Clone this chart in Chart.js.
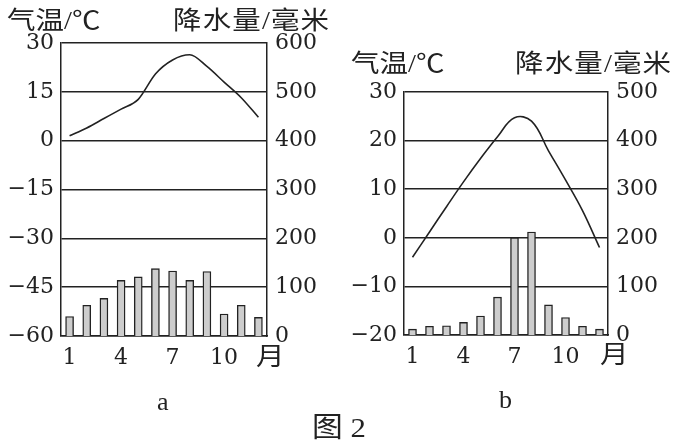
<!DOCTYPE html>
<html>
<head>
<meta charset="utf-8">
<script src="https://cdn.jsdelivr.net/npm/chart.js@4"></script>
<style>
  body { margin: 0; background: #fff; }
  #page { position: relative; width: 686px; height: 445px; overflow: hidden; }
  .box { position: absolute; top: 0; width: 343px; height: 445px; }
  .txt { position: absolute; color: #222; font-family: "Liberation Serif", "Noto Sans CJK SC", serif; white-space: nowrap; line-height: 1; transform-origin: 0 0; }
  .cjk { font-size: 25px; transform: scaleX(1.14); }
  .wide { letter-spacing: 1px; }
</style>
</head>
<body>
<div id="page">
  <div class="box" style="left:0"><canvas id="chartA"></canvas></div>
  <div class="box" style="left:343px"><canvas id="chartB"></canvas></div>

  <div class="txt cjk" style="left:7px; top:8px;">气温/℃</div>
  <div class="txt cjk wide" style="left:173px; top:8px;">降水量/毫米</div>
  <div class="txt cjk" style="left:351px; top:51px;">气温/℃</div>
  <div class="txt cjk wide" style="left:515px; top:51px;">降水量/毫米</div>

  <div class="txt cjk" style="left:256px; top:344px;">月</div>
  <div class="txt cjk" style="left:600px; top:342px;">月</div>

  <div class="txt" style="left:157px; top:389px; font-size:26px;">a</div>
  <div class="txt" style="left:499px; top:387px; font-size:26px;">b</div>
  <div class="txt" style="left:312px; top:414px; font-size:28px; transform: scaleX(1.1);">图 2</div>
</div>

<script>
// months on the x axis
var months = [1, 2, 3, 4, 5, 6, 7, 8, 9, 10, 11, 12];
var shownMonths = [1, 4, 7, 10];

// chart a
var tempA = [1.5, 3.9, 6.8, 9.7, 12.7, 20.5, 24.8, 26.4, 22.8, 18, 13.2, 7.2];
var rainA = [40, 63, 77, 114, 121, 138, 133, 114, 132, 45, 63, 38];
var tempTicksA = [-60, -45, -30, -15, 0, 15, 30];
var rainTicksA = [0, 100, 200, 300, 400, 500, 600];

// chart b
var tempB = [-4, 1.2, 6.4, 11.5, 16.3, 20.8, 24.7, 24, 17.9, 11.9, 5.6, -2];
var rainB = [12, 18, 19, 26, 39, 78, 200, 212, 62, 36, 18, 12];
var tempTicksB = [-20, -10, 0, 10, 20, 30];
var rainTicksB = [0, 100, 200, 300, 400, 500];

var ink = "#222";
var tickFont = { family: "DejaVu Serif", size: 22 };

function fixWidth(w) {
    return function (scale) { scale.width = w; };
}

function makeChart(id, temps, rains, tTicks, rTicks, box, curve) {

    new Chart(document.getElementById(id), {

        data: {
            labels: months,
            datasets: [{
                    type: "line",
                    data: temps,
                    yAxisID: "y",
                    borderColor: ink,
                    borderWidth: 1.6,
                    pointRadius: 0,
                    tension: curve.tension,
                    cubicInterpolationMode: curve.mode,
                    order: 0
                }, {
                    type: "bar",
                    data: rains,
                    yAxisID: "y1",
                    backgroundColor: "#cdcdcd",
                    borderColor: ink,
                    borderWidth: 1.4,
                    borderSkipped: "bottom",
                    barThickness: 8,
                    order: 1
                }]
        },

        options: {
            responsive: true,
            maintainAspectRatio: false,
            animation: false,
            layout: {
                padding: { top: box.top, bottom: box.bottom, left: 0, right: 0 }
            },

            plugins: {
                legend: { display: false },
                tooltip: { enabled: false }
            },

            scales: {
                x: {
                    offset: true,
                    grid: { display: false, drawTicks: false },
                    border: { color: ink, width: 1.5 },
                    afterFit: function (scale) { scale.height = 40; },
                    ticks: {
                        autoSkip: false,
                        maxRotation: 0,
                        padding: 9,
                        color: ink,
                        font: tickFont,
                        callback: function (value, i) {
                            return shownMonths.indexOf(months[i]) >= 0 ? String(months[i]) : "";
                        }
                    }
                },
                y: {
                    position: "left",
                    min: tTicks[0],
                    max: tTicks[tTicks.length - 1],
                    afterBuildTicks: function (scale) {
                        scale.ticks = tTicks.map(function (v) { return { value: v }; });
                    },
                    afterFit: fixWidth(box.left),
                    grid: { color: ink, lineWidth: 1.5, drawTicks: false },
                    border: { color: ink, width: 1.5 },
                    ticks: {
                        padding: 7,
                        color: ink,
                        font: tickFont,
                        callback: function (value) {
                            return String(value).replace("-", "\u2212");
                        }
                    }
                },
                y1: {
                    position: "right",
                    min: rTicks[0],
                    max: rTicks[rTicks.length - 1],
                    afterBuildTicks: function (scale) {
                        scale.ticks = rTicks.map(function (v) { return { value: v }; });
                    },
                    afterFit: fixWidth(box.right),
                    grid: { display: false, drawTicks: false },
                    border: { color: ink, width: 1.5 },
                    ticks: {
                        padding: 8,
                        color: ink,
                        font: tickFont
                    }
                }
            }
        }

    });
}

makeChart("chartA", tempA, rainA, tempTicksA, rainTicksA,
    { top: 43, bottom: 69, left: 61, right: 76 }, { tension: 0, mode: "monotone" });
makeChart("chartB", tempB, rainB, tempTicksB, rainTicksB,
    { top: 92, bottom: 70, left: 61, right: 78 }, { tension: 0.4, mode: "default" });
</script>
</body>
</html>
